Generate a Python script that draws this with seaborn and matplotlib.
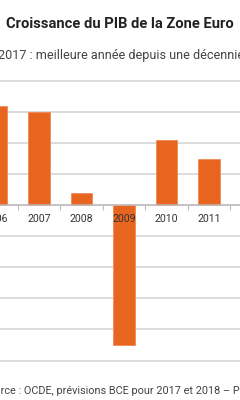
import matplotlib
matplotlib.use("Agg")
import matplotlib.pyplot as plt
from matplotlib.ticker import FixedLocator, MultipleLocator
import seaborn as sns
import pandas as pd

years = ["2006", "2007", "2008", "2009", "2010", "2011", "2012"]
growth = [3.2, 3.0, 0.4, -4.5, 2.1, 1.5, -0.9]

title = "Croissance du PIB de la Zone Euro"
subtitle = "2017 : meilleure année depuis une décennie"
source = "Source : OCDE, prévisions BCE pour 2017 et 2018 – Pour l'Éco"

sns.set_theme(style="white")
plt.rcParams["font.family"] = ["Roboto", "DejaVu Sans"]

W, H = 240, 400
fig = plt.figure(figsize=(W / 100, H / 100), dpi=100)

# axes geometry (pixels)
y_top_px, y_bot_px = 81.0, 360.5   # gridlines at 4 and -5
ymax, ymin = 4.0, -5.0
ppu = (y_bot_px - y_top_px) / (ymax - ymin)
pad_u = 0.06
ax_top = y_top_px - pad_u * ppu
ax_bot = y_bot_px + pad_u * ppu
ax = fig.add_axes([0, 1 - ax_bot / H, 1, (ax_bot - ax_top) / H])

df = pd.DataFrame({"year": years, "growth": growth})
sns.barplot(data=df, x="year", y="growth", color="#E8651F", width=0.5,
            saturation=1, ax=ax, edgecolor="#F08A55", linewidth=0.6)

# x range (visible window)
step = 42.5
x0_px = -3.5
ax.set_xlim((0 - x0_px) / step, (W - x0_px) / step)
ax.set_ylim(ymin - pad_u, ymax + pad_u)

ax.yaxis.set_major_locator(MultipleLocator(1))
ax.grid(axis="y", color="#D2D2D2", linewidth=1.1)
ax.grid(axis="x", visible=False)
ax.set_axisbelow(True)
ax.tick_params(axis="y", left=False, labelleft=False)

for s in ["top", "left", "right"]:
    ax.spines[s].set_visible(False)
ax.spines["bottom"].set_position(("data", 0))
ax.spines["bottom"].set_color("#BDBDBD")
ax.spines["bottom"].set_linewidth(1.1)

ax.xaxis.set_minor_locator(FixedLocator([i + 0.5 for i in range(-1, len(years))]))
ax.tick_params(axis="x", which="major", length=0, labelbottom=False)
ax.tick_params(axis="x", which="minor", bottom=True, length=3.8, width=0.8,
               color="#BDBDBD", direction="out")
ax.set_xlabel("")
ax.set_ylabel("")

# category labels drawn above the bars
for i, yr in enumerate(years):
    ax.annotate(yr, (i, 0), xytext=(0, -14), textcoords="offset pixels",
                ha="center", va="center", fontsize=7.6, color="#333333",
                annotation_clip=False, zorder=6)

fig.text(119.5 / W, 1 - 24 / H, title, ha="center", va="center",
         fontsize=10.6, fontweight="bold", color="#222222")
fig.text(-1.5 / W, 1 - 55 / H, subtitle, ha="left", va="center",
         fontsize=9.1, color="#444444")
fig.text(-18.5 / W, 1 - 390 / H, source, ha="left", va="center",
         fontsize=7.8, color="#444444")

fig.savefig("out.png", dpi=100)
